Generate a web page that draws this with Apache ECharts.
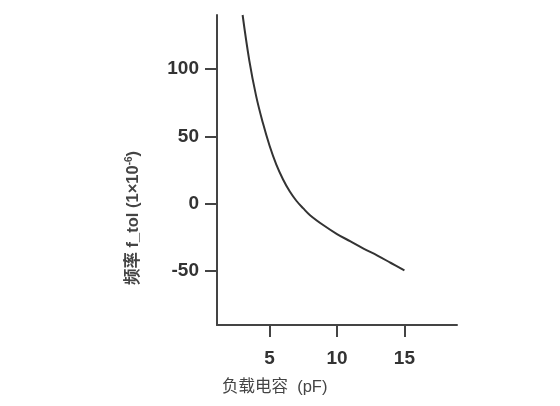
<!DOCTYPE html>
<html>
<head>
<meta charset="utf-8">
<script src="https://cdn.jsdelivr.net/npm/echarts@6/dist/echarts.min.js"></script>
<style>
  html, body { margin: 0; padding: 0; background: #fff; }
  #chart { width: 560px; height: 406px; }
</style>
</head>
<body>
<div id="chart"></div>
<script>
// 负载电容 (pF)
const capValues = [3.0, 3.5, 4.0, 4.5, 5.0, 5.5, 6.0, 6.5, 7.0, 7.5, 8.0, 9.0, 10.0, 11.0, 12.0, 13.0, 14.0, 15.0];
// 频率偏差 f_tol (1×10^-6)
const freqValues = [140, 106, 80, 60, 43, 29, 18, 9, 2, -3.5, -8.5, -16, -22.5, -28, -33.5, -38.5, -44, -49.5];
const xTicks = [5, 10, 15];
const yTicks = [-50, 0, 50, 100];

const axisColor = '#444';
const textColor = '#333';

const chart = echarts.init(document.getElementById('chart'));

const option = {
  animation: false,
  grid: {
    left: 217,
    right: 103,
    top: 15,
    bottom: 81,
  },
  xAxis: {
    type: 'value',
    min: 1.1,
    max: 18.9,
    name: '负载电容  (pF)',
    nameLocation: 'start',
    nameGap: -5,
    nameTextStyle: {
      align: 'left',
      verticalAlign: 'top',
      padding: [54, 0, 0, 0],
      color: axisColor,
      fontSize: 16.5,
      fontFamily: 'Liberation Sans, Noto Sans CJK SC',
    },
    splitLine: { show: false },
    axisLine: { onZero: false, lineStyle: { color: axisColor, width: 2 } },
    axisTick: {
      customValues: xTicks,
      length: 12,
      lineStyle: { color: axisColor, width: 2 },
    },
    axisLabel: {
      customValues: xTicks,
      margin: 24,
      color: textColor,
      fontSize: 19,
      fontWeight: 'bold',
      fontFamily: 'Liberation Sans',
    },
  },
  yAxis: {
    type: 'value',
    min: -90,
    max: 140,
    splitLine: { show: false },
    axisLine: { onZero: false, lineStyle: { color: axisColor, width: 2 } },
    axisTick: {
      customValues: yTicks,
      length: 12,
      lineStyle: { color: axisColor, width: 2 },
    },
    axisLabel: {
      customValues: yTicks,
      margin: 18,
      color: textColor,
      fontSize: 19,
      fontWeight: 'bold',
      fontFamily: 'Liberation Sans',
    },
  },
  graphic: [
    {
      type: 'text',
      x: 133,
      y: 218,
      rotation: Math.PI / 2,
      style: {
        text: '频率 f_tol (1×10{sup|-6})',
        fill: axisColor,
        fontSize: 16.5,
        fontWeight: 'bold',
        fontFamily: 'Liberation Sans, Noto Sans CJK SC',
        align: 'center',
        verticalAlign: 'middle',
        rich: {
          sup: {
            fontSize: 10,
            fontWeight: 'bold',
            fill: axisColor,
            verticalAlign: 'top',
            padding: [0, 0, 8, 0],
          },
        },
      },
    },
  ],
  series: [
    {
      type: 'line',
      data: capValues.map((c, i) => [c, freqValues[i]]),
      smooth: 0.4,
      showSymbol: false,
      lineStyle: { color: '#333', width: 2 },
    },
  ],
};

chart.setOption(option);
</script>
</body>
</html>
